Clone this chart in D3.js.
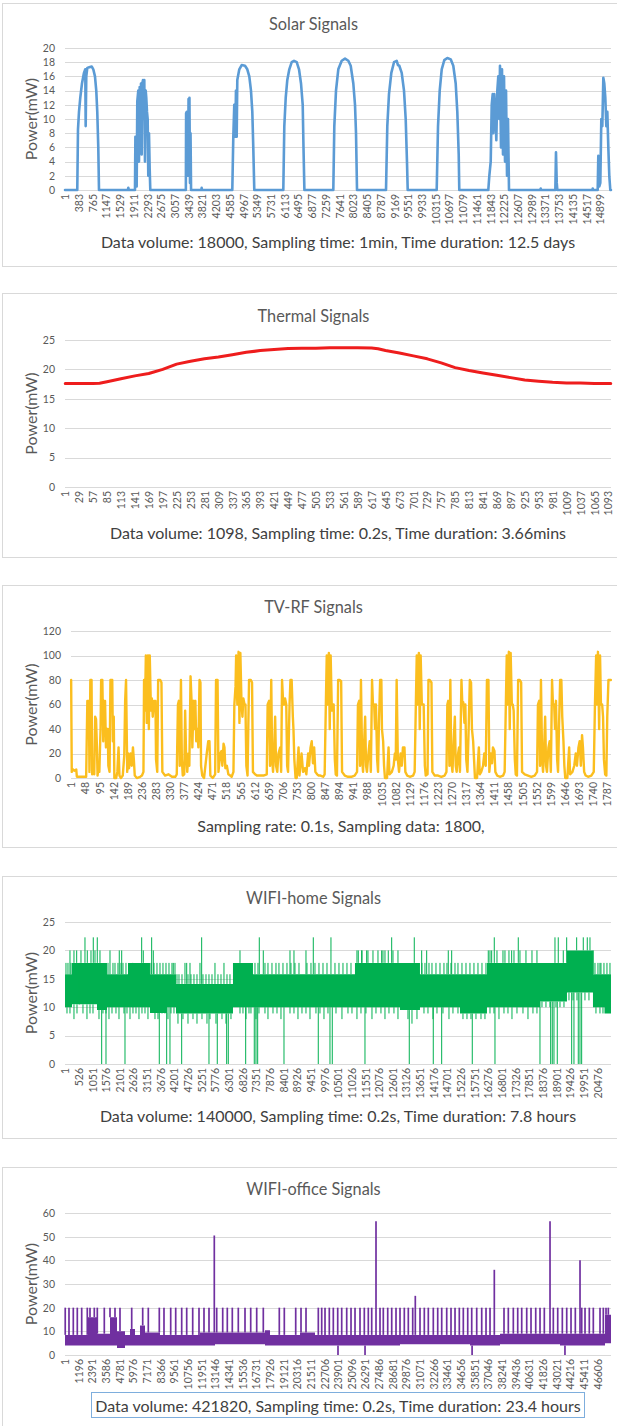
<!DOCTYPE html>
<html>
<head>
<meta charset="utf-8">
<script src="https://cdn.jsdelivr.net/npm/d3@7"></script>
<style>
  html, body { margin: 0; padding: 0; background: #fff; }
  svg { display: block; font-family: Lato, "Open Sans", sans-serif; }
</style>
</head>
<body>
<svg id="chart" width="617" height="1426"></svg>
<script>
// ---------- Solar: [sample index, power mW] ----------
const solarSeries = [
  [1,0],[342,0],[362,8.5],[390,11],[426,13],[473,15],[529,16.5],[565,17],[576,9],[593,16],[621,17.2],[677,17.3],[743,17.4],[788,17],[835,16],[871,14],[899,11],[927,6],[947,0],
  [1750,0],[1763,0.3],[1780,0],
  [1949,0],[1960,7.5],[1977,7.5],[1996,0.5],[2013,12.5],[2041,14],[2060,4],[2080,14.5],[2096,8],[2116,15],[2135,5],[2152,15],[2172,15.5],[2191,10],[2208,15.5],[2227,4],[2247,14],[2263,13],[2283,11],[2302,10],[2319,2],[2339,8],[2358,3],[2375,0],
  [3365,0],[3372,10.8],[3390,11],[3400,3],[3410,11],[3425,2],[3440,12.8],[3455,4],[3465,13],[3480,1],[3495,8],[3510,0],
  [3795,0],[3805,0.3],[3815,0],
  [4658,0],[4686,7.5],[4713,12],[4741,7.5],[4760,14],[4780,7.5],[4797,15.5],[4853,17],[4919,17.6],[5011,17.5],[5075,17],[5131,16],[5178,14],[5215,11],[5242,6],[5270,0],
  [6078,0],[6106,9],[6145,13],[6189,15.5],[6245,17],[6312,18],[6376,18.2],[6451,18],[6515,17],[6571,15],[6618,12],[6640,6],[6665,0],
  [7470,0],[7498,9],[7545,14],[7609,17],[7704,18.2],[7796,18.5],[7888,18.2],[7954,17.5],[8027,15],[8074,12],[8102,8],[8130,0],
  [8937,0],[8973,9],[9020,13.5],[9085,16.5],[9160,18],[9235,18.2],[9270,17.6],[9307,17.5],[9374,16.5],[9438,14],[9485,10],[9521,4],[9541,0],
  [10348,0],[10385,9],[10432,14],[10488,17],[10560,18.3],[10644,18.6],[10738,18.4],[10810,17.5],[10877,15],[10922,11],[10961,5],[10977,0],
  [11785,0],[11813,2],[11852,4],[11880,12],[11907,13.5],[11924,8],[11952,13.5],[11980,11],[12008,7],[12036,14],[12063,16],[12091,10],[12110,17.5],[12138,6],[12166,17],[12194,5],[12222,16],[12250,4],[12278,14],[12306,2],[12333,10],[12361,0],
  [13230,0],[13243,0.2],[13256,0],
  [13651,0],[13669,5.3],[13690,1],[13707,0],
  [14680,0],[14691,0.2],[14702,0],
  [14830,0],[14847,4.8],[14875,0.5],[14903,1],[14931,10],[14959,9],[14987,15.8],[15014,15],[15042,13],[15070,9],[15098,11],[15126,6],[15153,2],[15181,0],[15200,0]
];
const solarXTicks = [1,383,765,1147,1529,1911,2293,2675,3057,3439,3821,4203,4585,4967,5349,5731,6113,6495,6877,7259,7641,8023,8405,8787,9169,9551,9933,10315,10697,11079,11461,11843,12225,12607,12989,13371,13753,14135,14517,14899];
const solarYTicks = [0,2,4,6,8,10,12,14,16,18,20];

// ---------- Thermal ----------
const thermalSeries = [
  [1,17.6],[57,17.6],[70,17.65],[85,17.9],[113,18.4],[141,18.9],[169,19.3],[197,20.0],[225,20.9],[253,21.4],[281,21.8],[309,22.1],[337,22.5],[365,22.9],[393,23.2],[421,23.4],[449,23.55],[477,23.6],[505,23.6],[533,23.7],[561,23.7],[589,23.7],[617,23.65],[630,23.5],[645,23.2],[673,22.8],[701,22.3],[729,21.8],[757,21.1],[785,20.3],[813,19.8],[841,19.4],[869,19.0],[897,18.6],[925,18.2],[953,18.0],[981,17.8],[1009,17.7],[1037,17.7],[1065,17.6],[1098,17.6]
];
const thermalXTicks = [1,29,57,85,113,141,169,197,225,253,281,309,337,365,393,421,449,477,505,533,561,589,617,645,673,701,729,757,785,813,841,869,897,925,953,981,1009,1037,1065,1093];
const thermalYTicks = [0,5,10,15,20,25];

// ---------- TV-RF ----------
const tvrfSeries = [
  [1,80],[3,5],[7,7],[12,6],[18,7],[20,1],[51,1],[55,63],[60,63],[62,5],[65,80],[69,80],[71,3],[74,10],[78,3],[81,50],[84,48],[87,25],[89,2],[92,8],[95,5],[99,40],[101,80],[105,80],[108,30],[110,63],[114,63],[117,25],[120,40],[123,40],[125,10],[129,5],[132,80],[138,80],[140,30],[143,50],[145,0],[151,0],[155,5],[159,25],[162,2],[167,0],[173,2],[178,18],[181,63],[184,80],[188,5],[191,20],[194,8],[199,20],[203,10],[207,25],[210,15],[213,2],[220,0],[231,1],[237,2],[242,5],[244,80],[247,55],[250,100],[253,45],[257,100],[260,40],[263,100],[267,55],[270,65],[273,50],[277,63],[282,63],[284,15],[288,5],[291,80],[298,80],[302,78],[305,5],[314,2],[325,3],[337,1],[348,1],[353,3],[357,60],[360,63],[363,10],[367,80],[370,15],[373,2],[378,3],[381,55],[384,20],[388,5],[392,20],[395,10],[399,83],[402,65],[405,25],[409,63],[412,40],[415,63],[418,30],[422,40],[425,25],[429,80],[432,78],[434,10],[438,2],[444,0],[453,20],[458,30],[462,30],[465,2],[473,0],[481,3],[484,80],[489,80],[492,5],[498,20],[502,22],[505,10],[509,28],[512,25],[515,8],[520,10],[525,3],[531,2],[536,1],[542,5],[545,60],[549,75],[551,100],[555,60],[559,103],[562,45],[565,102],[569,60],[572,50],[575,65],[579,60],[582,60],[585,10],[589,2],[594,80],[600,80],[604,78],[607,5],[614,3],[620,2],[631,2],[642,2],[653,3],[656,60],[661,63],[664,10],[668,80],[671,15],[674,5],[678,25],[681,50],[684,10],[688,5],[692,20],[698,25],[701,5],[704,80],[708,60],[711,60],[714,65],[718,60],[721,10],[724,5],[729,60],[732,80],[736,80],[740,50],[742,40],[745,15],[749,0],[753,0],[759,25],[762,2],
  [769,20],[774,5],[780,8],[785,3],[791,20],[794,10],[799,25],[803,30],[807,12],[811,25],[815,5],[821,3],[826,2],[832,2],[841,1],[846,3],[850,60],[853,100],[856,60],[860,102],[863,40],[866,100],[870,55],[873,60],[876,60],[880,15],[883,3],[887,2],[891,80],[896,80],[901,79],[904,5],[913,2],[924,1],[935,1],[946,2],[954,5],[957,60],[961,63],[964,10],[967,80],[971,15],[974,5],[977,25],[981,50],[984,10],[987,5],[992,20],[996,30],[1000,5],[1004,80],[1007,60],[1011,60],[1014,40],[1017,60],[1021,15],[1024,5],[1027,45],[1031,80],[1035,80],[1037,40],[1041,30],[1044,10],[1047,0],[1054,0],[1059,25],[1062,3],[1070,5],[1076,10],[1080,20],[1083,15],[1086,80],[1090,15],[1094,5],[1099,20],[1103,10],[1107,25],[1112,25],[1115,5],[1121,2],[1130,1],[1141,2],[1146,5],[1150,60],[1153,100],[1156,60],[1160,102],[1163,40],[1166,100],[1170,60],[1173,60],[1176,60],[1180,10],[1183,2],[1189,3],[1192,80],[1196,80],[1202,78],[1205,5],[1213,2],[1224,2],[1235,1],[1246,2],[1252,5],[1255,60],[1258,63],[1262,10],[1265,80],[1268,15],[1272,5],[1276,30],[1280,50],[1283,10],[1286,5],[1291,20],[1294,25],[1297,5],[1302,80],[1305,60],[1308,62],[1312,45],[1315,60],[1318,15],[1322,5],[1326,40],[1330,80],[1334,78],[1337,40],[1341,30],[1344,15],[1347,0],[1354,0],[1360,25],[1363,3],[1368,5],[1374,10],[1378,20],[1383,10],[1387,80],[1392,80],[1395,5],[1400,20],[1404,12],[1407,25],[1412,22],[1415,5],[1421,2],[1430,1],[1441,2],[1446,5],[1450,60],[1453,100],[1456,60],[1460,103],[1463,40],[1466,102],[1470,60],[1473,60],[1476,55],[1480,15],[1483,3],[1487,2],[1491,80],[1496,80],[1501,78],[1504,5],[1513,3],[1524,2],[1535,1],[1546,2],[1554,5],[1557,60],[1561,63],[1564,10],[1567,80],[1571,15],[1574,5],[1577,20],[1581,50],[1584,10],[1587,5],[1592,25],[1596,30],[1600,5],[1604,80],[1607,60],[1611,60],[1614,40],[1617,63],[1621,15],[1624,5],[1627,40],[1631,80],[1635,80],[1638,50],[1642,30],[1645,10],[1648,0],[1655,0],[1661,25],[1664,3],[1672,5],[1678,10],[1683,20],[1687,10],[1692,25],[1696,30],[1700,10],[1704,35],[1707,25],[1711,5],[1716,2],[1724,1],[1735,2],[1743,5],[1747,60],[1751,100],[1754,60],[1757,103],[1761,40],[1764,100],[1767,60],[1771,60],[1774,50],[1777,15],[1781,3],[1785,2],[1788,50],[1792,80],[1796,80],[1800,80]
];
const tvrfXTicks = [1,48,95,142,189,236,283,330,377,424,471,518,565,612,659,706,753,800,847,894,941,988,1035,1082,1129,1176,1223,1270,1317,1364,1411,1458,1505,1552,1599,1646,1693,1740,1787];
const tvrfYTicks = [0,20,40,60,80,100,120];

// ---------- WIFI-home: dense band [start index, low, high] + excursions [index, value] ----------
const homeBand = [
  [1,10,15.8],[269,10.5,17.8],[1231,9.5,17.8],[1615,10,15.8],[2423,10,17.8],[3269,9,15.8],[3923,10,15.8],[4269,8.9,14.1],[6461,10,17.8],[7230,10,15.8],[11153,10,17.8],[12884,9.5,17.8],[13653,10,15.8],[15192,8.9,15.8],[16230,10,17.8],[18269,11,17.8],[19307,12.6,20],[20307,10,15.8],[20750,8.9,15.8],[21000,8.9,15.8]
];
const homeSpikes = [
  [192,20],[450,20],[550,17.8],[769,22.3],[858,20],[1088,22.3],[1242,22.3],[1346,20],[1411,0],[1577,0],[1731,20],[2088,20],[2181,20],[2308,0],[2604,17.8],[2950,22.3],[3011,20],[3334,22.3],[3396,20],[3627,0],[3911,0],[4038,0],[4165,17.8],[4488,0],[4681,17.8],[4808,17.8],[5257,22.3],[5538,0],[5857,0],[6219,0],[6281,0],[6731,20],[6950,0],[7280,0],[7346,0],[7411,0],[7473,22.3],[7627,20],[8423,0],[8654,20],[8807,20],[9269,20],[9550,22.3],[9742,0],[10192,0],[10230,22.3],[10280,0],[11280,20],[11411,20],[11538,0],[11603,20],[12180,20],[12307,20],[12434,20],[12565,22.3],[13242,0],[13434,22.3],[13719,20],[13911,20],[14165,0],[14488,0],[14742,20],[14873,20],[15665,0],[16280,20],[16411,20],[16511,22.3],[16538,0],[16922,20],[17180,20],[17434,22.3],[18269,0],[18680,0],[18742,0],[18807,0],[18846,22.3],[18934,0],[18972,22.3],[19165,20],[19296,22.3],[19488,0],[19576,0],[19680,22.3],[19742,0],[19807,0],[19872,0],[19934,22.3],[20088,22.3],[20192,22.3],[20319,20],[20576,17.8]
];
// short excursions just above the band
const homeUpperFringe = [
  [38,17.8],[115,17.8],[231,17.8],[346,20],[615,20],[1000,20],[1154,20],[1654,17.8],[1846,17.8],[1923,17.8],[2038,17.8],[2154,17.8],[2231,17.8],[2346,17.8],
  [3308,17.8],[3423,17.8],[3538,17.8],[3654,17.8],[3769,17.8],[3885,17.8],[4000,17.8],[4115,17.8],[4231,17.8],
  [4308,15.8],[4385,15.8],[4500,15.8],[4615,17.8],[4731,15.8],[4846,15.8],[4961,15.8],[5077,15.8],[5192,17.8],[5307,15.8],[5423,15.8],[5538,15.8],[5654,15.8],[5769,17.8],[5884,15.8],[6000,15.8],[6115,17.8],[6231,15.8],[6346,15.8],
  [7307,17.8],[7423,17.8],[7692,17.8],[7807,17.8],[7961,17.8],[8115,17.8],[8230,17.8],[8384,17.8],[8538,17.8],[8692,17.8],[8846,17.8],[9000,17.8],[9307,17.8],[9461,17.8],[9615,17.8],[9769,17.8],[9923,17.8],[10077,17.8],[10384,17.8],[10538,17.8],[10692,17.8],[10846,17.8],[11000,17.8],
  [11230,20],[11423,20],[11653,20],[11846,20],[12038,20],[12230,20],[12615,20],[12807,20],
  [13730,17.8],[13846,17.8],[14000,17.8],[14115,17.8],[14269,17.8],[14423,17.8],[14576,17.8],[14692,17.8],[14846,17.8],[15000,17.8],[15115,17.8],[15269,17.8],[15423,17.8],[15576,17.8],[15730,17.8],[15884,17.8],[16038,17.8],[16192,17.8],
  [16346,20],[16615,20],[16846,20],[17076,20],[17269,20],[17499,20],[17730,20],[17961,20],[18153,20],
  [20384,17.8],[20499,17.8],[20615,17.8],[20730,17.8],[20845,17.8],[20961,17.8]
];
// short excursions just below the band
const homeLowerFringe = [
  [77,8.9],[192,8.9],[346,7.9],[462,8.9],[692,8.9],[846,7.9],[962,8.9],[1077,8.9],[1308,7.9],[1461,8.9],[1577,8.9],[1692,7.9],[1808,8.9],[1961,8.9],[2077,7.9],[2269,8.9],[2385,8.9],[2500,7.9],[2615,8.9],[2731,8.9],[2846,7.9],[2961,8.9],[3077,8.9],[3192,7.9],[3461,7.9],[3577,7.9],[3731,8.9],[3846,8.9],[3961,7.9],[4077,8.9],[4192,8.9],
  [4346,7.1],[4538,7.9],[4731,7.1],[4923,7.9],[5077,7.1],[5269,7.9],[5461,7.1],[5577,7.9],[5807,7.1],[6038,7.9],[6192,7.1],[6384,7.9],
  [6731,8.9],[6846,8.9],[6961,7.9],[7077,8.9],[7153,8.9],[7346,7.9],[7461,8.9],[7692,8.9],[7807,7.9],[8000,8.9],[8154,8.9],[8307,7.9],[8654,8.9],[8807,8.9],[8961,7.9],[9115,8.9],[9269,8.9],[9423,7.9],[9653,8.9],[9807,8.9],[9961,7.9],[10115,8.9],[10423,8.9],[10653,7.9],[10884,8.9],[11038,8.9],[11230,7.9],[11384,8.9],[11576,8.9],[11807,7.9],[11961,8.9],[12153,8.9],[12307,7.9],[12461,8.9],[12653,8.9],[12807,7.9],[13192,7.9],[13346,7.1],[13538,7.9],[13807,8.9],[13961,8.9],[14153,7.9],[14307,8.9],[14538,8.9],[14769,7.9],[14922,8.9],[15115,8.9],
  [15307,7.9],[15461,7.9],[15615,7.9],[15807,7.9],[16000,7.9],[16153,7.9],
  [16346,8.9],[16499,8.9],[16692,7.9],[16884,8.9],[17038,8.9],[17192,7.9],[17384,8.9],[17615,8.9],[17807,7.9],[17999,8.9],[18153,8.9],
  [18346,10],[18499,10],[18653,10],[18884,10],[19038,10],[19192,10],
  [19384,11.2],[19538,11.2],[19692,11.2],[19999,11.2],[20153,11.2],
  [20422,8.9],[20576,8.9],[20692,8.9]
];
const homeXTicks = [1,526,1051,1576,2101,2626,3151,3676,4201,4726,5251,5776,6301,6826,7351,7876,8401,8926,9451,9976,10501,11026,11551,12076,12601,13126,13651,14176,14701,15226,15751,16276,16801,17326,17851,18376,18901,19426,19951,20476];
const homeYTicks = [0,5,10,15,20,25];

// ---------- WIFI-office ----------
const officeBand = [
  [1,4,8.5],[2014,4,16],[2802,4,9],[3940,4,16],[4553,3,10],[5253,4,8.5],[5691,4,11],[6128,4,8.5],[6566,4,12.5],[7004,4,9.5],[8317,4,8.5],[11819,4,9.5],[13133,4.5,9.5],[17510,4,10.5],[17948,4,8.5],[20574,4,9.5],[21887,4,8.5],[29329,4.5,8.5],[35458,4,8.5],[38084,4.5,9],[43337,4,9],[47277,5,17],[47800,5,17]
];
const officeSpikes = [
  [20,20],[350,20],[727,20],[1077,20],[1462,20],[1952,20],[2189,20],[2565,20],[2828,20],[3441,20],[3940,20],[4377,20],[4815,20],[5840,20],[6803,20],[7293,20],[8256,20],[8667,20],[9254,20],[9692,20],[10217,20],[10655,20],[11180,20],[11732,20],[12169,20],[12607,20],[13071,50.5],[13281,20],[13807,20],[14209,20],[14647,20],[15172,20],[15759,20],[16258,20],[16783,20],[17361,20],[18762,20],[19200,20],[20198,20],[20662,20],[21100,20],[22177,20],[22474,20],[22763,20],[23140,20],[23490,20],[23875,20],[24225,20],[24663,20],[25040,20],[25390,20],[25827,20],[26204,20],[26554,20],[26851,20],[27228,56.5],[27578,20],[27867,20],[28253,20],[28603,20],[28979,20],[29329,20],[29706,20],[30056,20],[30441,20],[30668,25],[31080,20],[31457,20],[31807,20],[32244,20],[32630,20],[32980,20],[33418,20],[33794,20],[34145,20],[34521,20],[34871,20],[35257,20],[35607,20],[36044,20],[36482,20],[36859,20],[37209,20],[37585,36],[38434,20],[38811,20],[39249,20],[39634,20],[39984,20],[40422,20],[40798,20],[41210,20],[41586,20],[41963,20],[42462,56.5],[42751,20],[43136,20],[43539,20],[43924,20],[44300,20],[44677,20],[45088,40],[45237,20],[45526,20],[45902,20],[46252,20],[46839,20],[47128,20],[47364,20],[47566,20],
  [23900,0],[26267,0],[35640,0],[43770,0]
];
const officeXTicks = [1,1196,2391,3586,4781,5976,7171,8366,9561,10756,11951,13146,14341,15536,16731,17926,19121,20316,21511,22706,23901,25096,26291,27486,28681,29876,31071,32266,33461,34656,35851,37046,38241,39436,40631,41826,43021,44216,45411,46606];
const officeYTicks = [0,10,20,30,40,50,60];

// ---------- Panel layout ----------
const panels = [
  { title: "Solar Signals", caption: "Data volume: 18000, Sampling time: 1min, Time duration: 12.5 days",
    top: 3, bottom: 266, titleY: 23, plotTop: 48, plotBottom: 190, captionY: 241, left: 65, n: 15200,
    yTicks: solarYTicks, xTicks: solarXTicks, color: "#5B9BD5", kind: "line", series: solarSeries, width: 2.6 },
  { title: "Thermal Signals", caption: "Data volume: 1098, Sampling time: 0.2s, Time duration: 3.66mins",
    top: 293, bottom: 557, titleY: 315, plotTop: 340, plotBottom: 487, captionY: 532, left: 65, n: 1098,
    yTicks: thermalYTicks, xTicks: thermalXTicks, color: "#EE1D1D", kind: "line", series: thermalSeries, width: 3 },
  { title: "TV-RF Signals", caption: "Sampling rate: 0.1s, Sampling data: 1800,",
    top: 585, bottom: 847, titleY: 606, plotTop: 631, plotBottom: 778, captionY: 825, left: 71, n: 1800,
    yTicks: tvrfYTicks, xTicks: tvrfXTicks, color: "#FBBE1E", kind: "line", series: tvrfSeries, width: 2.4 },
  { title: "WIFI-home Signals", caption: "Data volume: 140000, Sampling time: 0.2s, Time duration: 7.8 hours",
    top: 876, bottom: 1138, titleY: 897, plotTop: 922, plotBottom: 1064, captionY: 1115, left: 65, n: 21000,
    yTicks: homeYTicks, xTicks: homeXTicks, color: "#00B050", kind: "band", band: homeBand,
    spikes: homeSpikes.concat(homeUpperFringe, homeLowerFringe), width: 1 },
  { title: "WIFI-office Signals", caption: "Data volume: 421820, Sampling time: 0.2s, Time duration: 23.4 hours",
    top: 1167, bottom: 1440, titleY: 1188, plotTop: 1213, plotBottom: 1355, captionY: 1405, left: 65, n: 47800,
    yTicks: officeYTicks, xTicks: officeXTicks, color: "#7030A0", kind: "band", band: officeBand, spikes: officeSpikes, width: 1.7,
    captionBox: { x: 91, y: 1392, w: 493, h: 25 } }
];
const plotRight = 611;
const textGray = "#595959";
const gridGray = "#D9D9D9";
const fontStack = "Lato, 'Open Sans', sans-serif";

const svg = d3.select("#chart");

panels.forEach(p => {
  const g = svg.append("g");

  // chart frame
  g.append("rect")
    .attr("x", 2.5).attr("y", p.top + 0.5)
    .attr("width", 660).attr("height", p.bottom - p.top)
    .attr("fill", "#fff").attr("stroke", gridGray).attr("stroke-width", 1);

  const x = d3.scaleLinear().domain([0.5, p.n + 0.5]).range([p.left, plotRight]);
  const yMax = p.yTicks[p.yTicks.length - 1];
  const y = d3.scaleLinear().domain([0, yMax]).range([p.plotBottom, p.plotTop]);

  // title
  g.append("text").attr("x", 313.5).attr("y", p.titleY)
    .attr("text-anchor", "middle").attr("dominant-baseline", "central")
    .attr("fill", textGray).attr("font-size", 16.3).text(p.title);

  // value axis with gridlines
  g.append("g").attr("transform", `translate(${p.left},0)`)
    .call(d3.axisLeft(y).tickValues(p.yTicks).tickSize(-(plotRight - p.left)).tickPadding(10))
    .call(a => a.select(".domain").remove())
    .call(a => a.selectAll("line").attr("stroke", gridGray).attr("shape-rendering", "crispEdges"))
    .call(a => a.selectAll("text").attr("fill", textGray).attr("font-size", 10.5).attr("font-family", fontStack));

  // category axis labels, rotated
  g.append("g").attr("transform", `translate(0,${p.plotBottom})`)
    .call(d3.axisBottom(x).tickValues(p.xTicks).tickSize(0).tickFormat(d3.format("d")))
    .call(a => a.select(".domain").remove())
    .call(a => a.selectAll("text")
      .attr("transform", "rotate(-90)").attr("text-anchor", "end")
      .attr("x", -4).attr("y", 0).attr("dy", "0.35em")
      .attr("fill", textGray).attr("font-size", 10.5).attr("font-family", fontStack));

  // value axis title
  g.append("text")
    .attr("transform", `translate(30,${(p.plotTop + p.plotBottom) / 2}) rotate(-90)`)
    .attr("text-anchor", "middle").attr("dominant-baseline", "central")
    .attr("fill", textGray).attr("font-size", 16).text("Power(mW)");

  // series
  if (p.kind === "line") {
    const line = d3.line().x(d => x(d[0])).y(d => y(d[1]));
    g.append("path").datum(p.series)
      .attr("d", line).attr("fill", "none")
      .attr("stroke", p.color).attr("stroke-width", p.width)
      .attr("stroke-linejoin", "round").attr("stroke-linecap", "round");
  } else {
    const area = d3.area().curve(d3.curveStepAfter)
      .x(d => x(d[0])).y0(d => y(d[1])).y1(d => y(d[2]));
    g.append("path").datum(p.band).attr("d", area).attr("fill", p.color);
    const bis = d3.bisector(d => d[0]).right;
    const bandAt = i => p.band[Math.max(0, bis(p.band, i) - 1)];
    g.append("g").selectAll("line").data(p.spikes).join("line")
      .attr("x1", d => x(d[0])).attr("x2", d => x(d[0]))
      .attr("y1", d => { const b = bandAt(d[0]); return y(d[1] > b[2] ? b[2] : b[1]); })
      .attr("y2", d => y(d[1]))
      .attr("stroke", p.color).attr("stroke-width", p.width);
  }

  // caption
  if (p.captionBox) {
    g.append("rect").attr("x", p.captionBox.x + 0.5).attr("y", p.captionBox.y + 0.5)
      .attr("width", p.captionBox.w).attr("height", p.captionBox.h)
      .attr("fill", "#fff").attr("stroke", "#7EAEDD").attr("stroke-width", 1);
  }
  g.append("text").attr("x", (p.left + plotRight) / 2).attr("y", p.captionY)
    .attr("text-anchor", "middle").attr("dominant-baseline", "central")
    .attr("fill", "#404040").attr("font-size", 16).text(p.caption);
});
</script>
</body>
</html>
